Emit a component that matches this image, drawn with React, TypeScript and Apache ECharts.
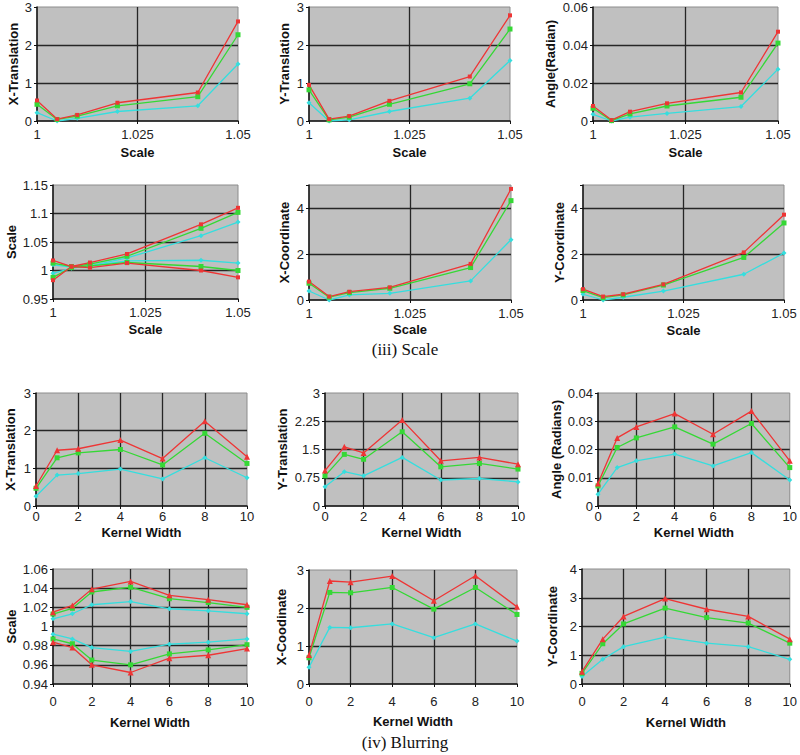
import React, { useEffect, useRef } from "react";
import * as echarts from "echarts";

// ---------- data ----------
const scaleX = [1, 1.005, 1.01, 1.02, 1.04, 1.05];
const kernelX = [0, 1, 2, 4, 6, 8, 10];

// (iii) Scale
const scXTransRed = [0.54, 0.05, 0.16, 0.48, 0.75, 2.62];
const scXTransGreen = [0.44, 0.04, 0.13, 0.4, 0.64, 2.27];
const scXTransCyan = [0.22, 0, 0.07, 0.25, 0.4, 1.5];

const scYTransRed = [0.95, 0.05, 0.13, 0.53, 1.17, 2.78];
const scYTransGreen = [0.82, 0.03, 0.1, 0.44, 0.98, 2.42];
const scYTransCyan = [0.48, 0, 0.03, 0.25, 0.6, 1.59];

const scAngleRed = [0.0079, 0.0005, 0.0049, 0.0093, 0.015, 0.047];
const scAngleGreen = [0.0067, 0.0002, 0.0037, 0.0079, 0.0125, 0.041];
const scAngleCyan = [0.0035, 0, 0.002, 0.004, 0.0076, 0.0273];

const scScaleRedUp = [1.0176, 1.007, 1.014, 1.029, 1.081, 1.11];
const scScaleRedLow = [0.983, 1.007, 1.005, 1.013, 1.0, 0.988];
const scScaleGreenUp = [1.013, 1.007, 1.011, 1.025, 1.074, 1.102];
const scScaleGreenLow = [0.988, 1.005, 1.008, 1.014, 1.007, 1.0];
const scScaleCyanUp = [1.01, 1.006, 1.008, 1.022, 1.061, 1.085];
const scScaleCyanLow = [0.995, 1.004, 1.008, 1.017, 1.018, 1.013];

const scXCoordRed = [0.8, 0.15, 0.36, 0.55, 1.57, 4.83];
const scXCoordGreen = [0.73, 0.12, 0.32, 0.51, 1.41, 4.32];
const scXCoordCyan = [0.39, 0, 0.22, 0.29, 0.83, 2.62];

const scYCoordRed = [0.47, 0.15, 0.25, 0.68, 2.07, 3.71];
const scYCoordGreen = [0.41, 0.1, 0.22, 0.65, 1.85, 3.35];
const scYCoordCyan = [0.25, 0, 0.12, 0.39, 1.12, 2.04];

// (iv) Blurring
const blXTransRed = [0.53, 1.48, 1.52, 1.75, 1.26, 2.25, 1.31];
const blXTransGreen = [0.47, 1.28, 1.41, 1.5, 1.09, 1.93, 1.13];
const blXTransCyan = [0.26, 0.82, 0.86, 0.98, 0.72, 1.28, 0.75];

const blYTransRed = [0.94, 1.57, 1.41, 2.28, 1.2, 1.29, 1.11];
const blYTransGreen = [0.8, 1.37, 1.24, 1.97, 1.04, 1.13, 0.98];
const blYTransCyan = [0.51, 0.91, 0.8, 1.29, 0.69, 0.73, 0.64];

const blAngleRed = [0.008, 0.0241, 0.028, 0.0327, 0.0254, 0.0336, 0.016];
const blAngleGreen = [0.0071, 0.0207, 0.0241, 0.028, 0.0219, 0.0292, 0.0136];
const blAngleCyan = [0.0042, 0.0136, 0.016, 0.0184, 0.0142, 0.0189, 0.0092];

const blScaleRedUp = [1.015, 1.022, 1.039, 1.047, 1.0325, 1.028, 1.0227];
const blScaleGreenUp = [1.013, 1.019, 1.036, 1.041, 1.029, 1.025, 1.02];
const blScaleCyanUp = [1.008, 1.0133, 1.0227, 1.026, 1.0185, 1.0164, 1.0133];
const blScaleCyanLow = [0.992, 0.987, 0.978, 0.974, 0.9815, 0.9836, 0.987];
const blScaleGreenLow = [0.987, 0.982, 0.965, 0.96, 0.9714, 0.9756, 0.981];
const blScaleRedLow = [0.9836, 0.978, 0.96, 0.952, 0.967, 0.97, 0.977];

const blXCoordRed = [0.76, 2.71, 2.68, 2.84, 2.19, 2.85, 2.03];
const blXCoordGreen = [0.69, 2.41, 2.4, 2.54, 1.97, 2.54, 1.83];
const blXCoordCyan = [0.44, 1.49, 1.48, 1.58, 1.22, 1.58, 1.13];

const blYCoordRed = [0.43, 1.56, 2.35, 2.97, 2.6, 2.35, 1.56];
const blYCoordGreen = [0.37, 1.4, 2.09, 2.64, 2.31, 2.12, 1.42];
const blYCoordCyan = [0.26, 0.86, 1.3, 1.63, 1.42, 1.3, 0.86];

const captions = ["(iii) Scale", "(iv) Blurring"];

// ---------- styling / layout ----------
const RED = "#ee3535";
const GREEN = "#35d835";
const CYAN = "#35dede";
const FONT = "'Liberation Sans', Arial, sans-serif";
const SERIF = "'Liberation Serif', 'DejaVu Serif', serif";

type Kind = "red" | "green" | "cyan";
type Panel = {
  yName: string;
  xName: string;
  blur: boolean;
  yMin: number;
  yMax: number;
  yInt: number;
  g: [number, number, number, number];
  yGap: number;
  xGap: number;
  xMargin: number;
  lines: [Kind, number[]][];
};

const panels: Panel[] = [
  { yName: "X-Translation", xName: "Scale", blur: false, yMin: 0, yMax: 3, yInt: 1, g: [37, 7, 201, 114], yGap: 17, xGap: 25, xMargin: 7,
    lines: [["cyan", scXTransCyan], ["green", scXTransGreen], ["red", scXTransRed]] },
  { yName: "Y-Translation", xName: "Scale", blur: false, yMin: 0, yMax: 3, yInt: 1, g: [309, 7, 201, 114], yGap: 18, xGap: 25, xMargin: 7,
    lines: [["cyan", scYTransCyan], ["green", scYTransGreen], ["red", scYTransRed]] },
  { yName: "Angle(Radian)", xName: "Scale", blur: false, yMin: 0, yMax: 0.06, yInt: 0.02, g: [593, 7, 185, 114], yGap: 36, xGap: 25, xMargin: 7,
    lines: [["cyan", scAngleCyan], ["green", scAngleGreen], ["red", scAngleRed]] },
  { yName: "Scale", xName: "Scale", blur: false, yMin: 0.95, yMax: 1.15, yInt: 0.05, g: [53, 185, 185, 114], yGap: 35, xGap: 24, xMargin: 7,
    lines: [["cyan", scScaleCyanUp], ["cyan", scScaleCyanLow], ["green", scScaleGreenUp], ["green", scScaleGreenLow], ["red", scScaleRedUp], ["red", scScaleRedLow]] },
  { yName: "X-Coordinate", xName: "Scale", blur: false, yMin: 0, yMax: 5, yInt: 2, g: [309, 185, 202, 115], yGap: 18, xGap: 23, xMargin: 7,
    lines: [["cyan", scXCoordCyan], ["green", scXCoordGreen], ["red", scXCoordRed]] },
  { yName: "Y-Coordinate", xName: "Scale", blur: false, yMin: 0, yMax: 5, yInt: 2, g: [583, 185, 201, 115], yGap: 17, xGap: 24, xMargin: 7,
    lines: [["cyan", scYCoordCyan], ["green", scYCoordGreen], ["red", scYCoordRed]] },
  { yName: "X-Translation", xName: "Kernel Width", blur: true, yMin: 0, yMax: 3, yInt: 1, g: [36, 393, 211, 113], yGap: 19, xGap: 20, xMargin: 4,
    lines: [["cyan", blXTransCyan], ["green", blXTransGreen], ["red", blXTransRed]] },
  { yName: "Y-Translation", xName: "Kernel Width", blur: true, yMin: 0, yMax: 3, yInt: 0.75, g: [325, 393, 193, 113], yGap: 36, xGap: 20, xMargin: 4,
    lines: [["cyan", blYTransCyan], ["green", blYTransGreen], ["red", blYTransRed]] },
  { yName: "Angle (Radians)", xName: "Kernel Width", blur: true, yMin: 0, yMax: 0.04, yInt: 0.01, g: [598, 393, 194, 113], yGap: 35, xGap: 20, xMargin: 4,
    lines: [["cyan", blAngleCyan], ["green", blAngleGreen], ["red", blAngleRed]] },
  { yName: "Scale", xName: "Kernel Width", blur: true, yMin: 0.94, yMax: 1.06, yInt: 0.02, g: [53, 569, 194, 115], yGap: 35, xGap: 32, xMargin: 11,
    lines: [["cyan", blScaleCyanUp], ["cyan", blScaleCyanLow], ["green", blScaleGreenUp], ["green", blScaleGreenLow], ["red", blScaleRedUp], ["red", blScaleRedLow]] },
  { yName: "X-Coodinate", xName: "Kernel Width", blur: true, yMin: 0, yMax: 3, yInt: 1, g: [309, 570, 208, 114], yGap: 21, xGap: 31, xMargin: 11,
    lines: [["cyan", blXCoordCyan], ["green", blXCoordGreen], ["red", blXCoordRed]] },
  { yName: "Y-Coordinate", xName: "Kernel Width", blur: true, yMin: 0, yMax: 4, yInt: 1, g: [582, 569, 209, 115], yGap: 23, xGap: 32, xMargin: 11,
    lines: [["cyan", blYCoordCyan], ["green", blYCoordGreen], ["red", blYCoordRed]] },
];

function markerFor(kind: Kind, blur: boolean) {
  if (kind === "red") return { symbol: blur ? "triangle" : "rect", symbolSize: blur ? 6 : 4, color: RED };
  if (kind === "green") return { symbol: "rect", symbolSize: 5, color: GREEN };
  return { symbol: "diamond", symbolSize: 5, color: CYAN };
}

function buildOption() {
  const grid: any[] = [];
  const xAxis: any[] = [];
  const yAxis: any[] = [];
  const series: any[] = [];
  const axisColor = "#111";
  const gridLine = { color: "#262626", width: 1.3 };

  panels.forEach((p, i) => {
    const xs = p.blur ? kernelX : scaleX;
    grid.push({
      left: p.g[0], top: p.g[1], width: p.g[2], height: p.g[3],
      show: true, backgroundColor: "#c0c0c0", borderColor: "#8c8c8c", borderWidth: 1,
      containLabel: false,
    });
    xAxis.push({
      type: "value", gridIndex: i,
      min: p.blur ? 0 : 1, max: p.blur ? 10 : 1.05, interval: p.blur ? 2 : 0.025,
      name: p.xName, nameLocation: "middle", nameGap: p.xGap,
      nameTextStyle: { fontFamily: FONT, fontWeight: "bold", fontSize: 13, color: "#111" },
      axisLine: { onZero: false, lineStyle: { color: axisColor, width: 1.5 } },
      axisTick: { show: true, length: 3, lineStyle: { color: axisColor } },
      axisLabel: { margin: p.xMargin, fontFamily: FONT, fontSize: 13, color: "#222", showMinLabel: true, showMaxLabel: true },
      splitLine: { show: true, showMinLine: false, showMaxLine: false, lineStyle: gridLine },
    });
    yAxis.push({
      type: "value", gridIndex: i,
      min: p.yMin, max: p.yMax, interval: p.yInt,
      name: p.yName, nameLocation: "middle", nameGap: p.yGap,
      nameTextStyle: { fontFamily: FONT, fontWeight: "bold", fontSize: 13, color: "#111" },
      axisLine: { onZero: false, lineStyle: { color: axisColor, width: 1.5 } },
      axisTick: { show: true, length: 3, lineStyle: { color: axisColor } },
      axisLabel: {
        margin: 5, fontFamily: FONT, fontSize: 13, color: "#222",
        formatter: (v: number) => {
          const k = Math.round(v / p.yInt);
          if (Math.abs(k * p.yInt - v) > 1e-9) return "";
          return String(parseFloat(v.toFixed(4)));
        },
      },
      splitLine: { show: true, showMinLine: false, showMaxLine: false, lineStyle: gridLine },
    });
    p.lines.forEach(([kind, vals]) => {
      const m = markerFor(kind, p.blur);
      series.push({
        type: "line", xAxisIndex: i, yAxisIndex: i,
        data: xs.map((x, j) => [x, vals[j]]),
        symbol: m.symbol, symbolSize: m.symbolSize, showSymbol: true,
        lineStyle: { color: m.color, width: 1.3 },
        itemStyle: { color: m.color },
        silent: true,
      });
    });
  });

  return {
    animation: false,
    backgroundColor: "#ffffff",
    grid, xAxis, yAxis, series,
    graphic: [
      { type: "text", x: 405, y: 349, style: { text: captions[0], textAlign: "center", textVerticalAlign: "middle", fontFamily: SERIF, fontSize: 17, fill: "#111" } },
      { type: "text", x: 405, y: 742, style: { text: captions[1], textAlign: "center", textVerticalAlign: "middle", fontFamily: SERIF, fontSize: 17, fill: "#111" } },
    ],
  };
}

export default function App() {
  const ref = useRef<HTMLDivElement>(null);
  useEffect(() => {
    if (!ref.current) return;
    const chart = echarts.init(ref.current, undefined, { renderer: "svg" });
    chart.setOption(buildOption() as any);
    return () => chart.dispose();
  }, []);
  return (
    <div
      ref={ref}
      style={{ position: "absolute", left: 0, top: 0, width: 800, height: 755, background: "#fff" }}
    />
  );
}
